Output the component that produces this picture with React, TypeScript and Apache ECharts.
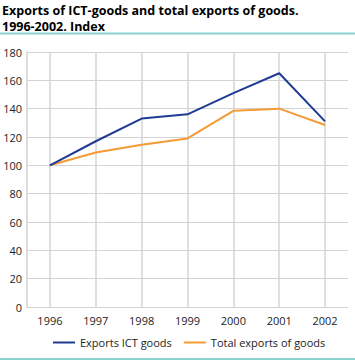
import React, { useEffect, useRef } from "react";
import * as echarts from "echarts";

const years = ["1996", "1997", "1998", "1999", "2000", "2001", "2002"];
const ictGoods = [100, 117, 133, 136, 151, 165, 131];
const totalGoods = [100, 109, 114.5, 119, 138.5, 140, 128.5];
const titleLines = ["Exports of ICT-goods and total exports of goods.", "1996-2002. Index"];

export default function App() {
  const ref = useRef<HTMLDivElement>(null);
  useEffect(() => {
    const chart = echarts.init(ref.current!, undefined, { renderer: "svg" });
    const font = "'Open Sans', sans-serif";
    chart.setOption({
      animation: false,
      textStyle: { fontFamily: font },
      title: {
        text: titleLines.join("\n"),
        left: 2,
        top: 2,
        padding: 0,
        textStyle: { fontSize: 12.5, fontWeight: "bold", color: "#000", lineHeight: 16, fontFamily: font },
      },
      graphic: [
        { type: "line", shape: { x1: 0, y1: 33.5, x2: 355, y2: 33.5 }, style: { stroke: "#8ecfcf", lineWidth: 2 } },
        { type: "line", shape: { x1: 0, y1: 359, x2: 355, y2: 359 }, style: { stroke: "#8ecfcf", lineWidth: 2 } },
      ],
      legend: {
        bottom: 8,
        left: 48,
        itemWidth: 22,
        itemHeight: 2,
        itemGap: 12,
        icon: "rect",
        textStyle: { fontSize: 11, color: "#222", fontFamily: font },
        data: ["Exports ICT goods", "Total exports of goods"],
      },
      grid: { left: 27, right: 7, top: 52, bottom: 54, containLabel: false },
      xAxis: {
        type: "category",
        data: years,
        boundaryGap: true,
        axisLine: { show: false },
        axisTick: { show: false },
        axisLabel: { fontSize: 11, color: "#222", margin: 8 },
        splitLine: { show: false },
      },
      yAxis: {
        type: "value",
        min: 0,
        max: 180,
        interval: 20,
        axisLine: { show: true, lineStyle: { color: "#dcdcdc", width: 2 } },
        axisTick: { show: false },
        axisLabel: { fontSize: 11, color: "#222", margin: 5 },
        splitLine: { show: true, lineStyle: { color: "#d4d4d4", width: 1 } },
      },
      series: [
        {
          name: "Exports ICT goods",
          type: "line",
          data: ictGoods,
          symbol: "none",
          lineStyle: { color: "#1f3b94", width: 2 },
          itemStyle: { color: "#1f3b94" },
          z: 3,
          markLine: {
            silent: true,
            symbol: "none",
            label: { show: false },
            lineStyle: { color: "#d4d4d4", width: 1.5, type: "solid" },
            data: years.map((y) => ({ xAxis: y })),
            z: 1,
          },
        },
        {
          name: "Total exports of goods",
          type: "line",
          data: totalGoods,
          symbol: "none",
          lineStyle: { color: "#f59a34", width: 2 },
          itemStyle: { color: "#f59a34" },
          z: 2,
        },
      ],
    });
    return () => chart.dispose();
  }, []);
  return <div ref={ref} style={{ width: 355, height: 361, position: "absolute", left: 0, top: 0 }} />;
}
